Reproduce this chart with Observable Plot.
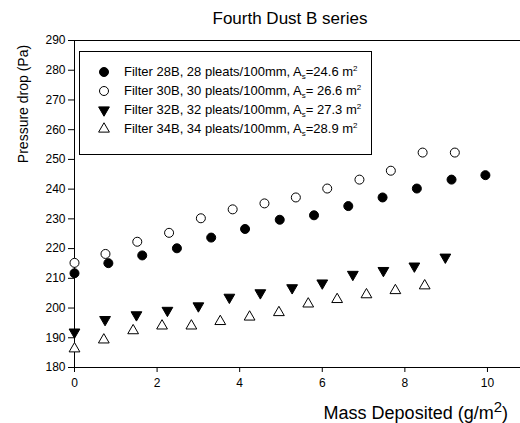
<!DOCTYPE html>
<html><head><meta charset="utf-8">
<script src="https://cdn.jsdelivr.net/npm/d3@7"></script>
<script src="https://cdn.jsdelivr.net/npm/@observablehq/plot@0.6"></script>
<style>body{margin:0;background:#fff}</style>
</head><body><div id="chart"></div>
<script>
const title = "Fourth Dust B series";
const xLabel = "Mass Deposited (g/m";
const yLabel = "Pressure drop (Pa)";
const xTicks = [0, 2, 4, 6, 8, 10];
const yTicks = [180, 190, 200, 210, 220, 230, 240, 250, 260, 270, 280, 290];

const x28 = [0, 0.82, 1.64, 2.48, 3.31, 4.13, 4.97, 5.80, 6.63, 7.46, 8.29, 9.13, 9.95];
const y28 = [211.7, 215.1, 217.7, 220.1, 223.7, 226.6, 229.7, 231.2, 234.3, 237.2, 240.2, 243.2, 244.7];
const x30 = [0, 0.75, 1.52, 2.29, 3.06, 3.83, 4.60, 5.36, 6.12, 6.90, 7.66, 8.43, 9.21];
const y30 = [215.2, 218.2, 222.3, 225.3, 230.2, 233.2, 235.2, 237.2, 240.2, 243.2, 246.2, 252.3, 252.3];
const x32 = [0, 0.74, 1.50, 2.25, 3.00, 3.75, 4.50, 5.27, 6.00, 6.74, 7.48, 8.23, 8.98];
const y32 = [191.9, 196.1, 197.7, 199.2, 200.7, 203.6, 205.1, 206.8, 208.4, 211.3, 212.6, 214.1, 217.1];
const x34 = [0, 0.71, 1.42, 2.12, 2.83, 3.53, 4.24, 4.95, 5.66, 6.36, 7.07, 7.77, 8.48];
const y34 = [186.3, 189.3, 192.4, 194.0, 194.0, 195.5, 197.0, 198.5, 201.4, 202.9, 204.5, 205.9, 207.5];

const legendNames = ["Filter 28B, 28 pleats/100mm, A", "Filter 30B, 30 pleats/100mm, A", "Filter 32B, 32 pleats/100mm, A", "Filter 34B, 34 pleats/100mm, A"];
const legendValues = ["=24.6 m", "= 26.6 m", "= 27.3 m", "=28.9 m"];

const toRows = (xs, ys) => xs.map((v, i) => ({x: v, y: ys[i]}));
const d28 = toRows(x28, y28), d30 = toRows(x30, y30), d32 = toRows(x32, y32), d34 = toRows(x34, y34);

const font = "'Liberation Sans', Arial, sans-serif";

const svg = Plot.plot({
  width: 520, height: 423,
  marginLeft: 74, marginRight: 0, marginTop: 40, marginBottom: 56,
  style: {fontFamily: font, fontSize: "12px", color: "#000", background: "#fff"},
  x: {domain: [0, 10.8], label: null},
  y: {domain: [180, 290], label: null},
  marks: [
    Plot.ruleY([180, 290], {stroke: "#000", strokeWidth: 1}),
    Plot.ruleX([0], {stroke: "#000", strokeWidth: 1}),
    Plot.axisX({ticks: xTicks, tickSize: 5, tickPadding: 6, stroke: "#000", fontSize: 12, fill: "#000"}),
    Plot.axisY({ticks: yTicks, tickSize: 6, tickPadding: 3, stroke: "#000", fontSize: 12, fill: "#000"}),
    Plot.dot(d34, {x: "x", y: "y", symbol: "triangle", r: 4, fill: "#fff", stroke: "#000", strokeWidth: 1}),
    Plot.dot(d32, {x: "x", y: "y", symbol: "triangle", rotate: 180, r: 4, fill: "#000", stroke: "#000", strokeWidth: 1}),
    Plot.dot(d30, {x: "x", y: "y", symbol: "circle", r: 4.5, fill: "#fff", stroke: "#000", strokeWidth: 1}),
    Plot.dot(d28, {x: "x", y: "y", symbol: "circle", r: 4.5, fill: "#000", stroke: "#000", strokeWidth: 1})
  ]
});
document.getElementById("chart").appendChild(svg);

const s = d3.select(svg);
s.append("text").attr("x", 290).attr("y", 24).attr("text-anchor", "middle")
  .attr("font-family", font).attr("font-size", 17).attr("fill", "#000").text(title);
s.append("text").attr("transform", "translate(28,104) rotate(-90)").attr("text-anchor", "middle")
  .attr("font-family", font).attr("font-size", 14).attr("fill", "#000").text(yLabel);
const xl = s.append("text").attr("x", 508).attr("y", 419).attr("text-anchor", "end")
  .attr("font-family", font).attr("font-size", 18).attr("fill", "#000");
xl.append("tspan").text(xLabel);
xl.append("tspan").attr("dy", -7).attr("font-size", 15).text("2");
xl.append("tspan").attr("dy", 7).text(")");

const lg = s.append("g");
lg.append("rect").attr("x", 79.5).attr("y", 51.5).attr("width", 292).attr("height", 103)
  .attr("fill", "#fff").attr("stroke", "#000").attr("stroke-width", 1);
const syms = [
  {type: d3.symbolCircle, size: Math.PI * 4.5 * 4.5, fill: "#000", rot: 0},
  {type: d3.symbolCircle, size: Math.PI * 4.5 * 4.5, fill: "#fff", rot: 0},
  {type: d3.symbolTriangle, size: Math.PI * 16, fill: "#000", rot: 180},
  {type: d3.symbolTriangle, size: Math.PI * 16, fill: "#fff", rot: 0}
];
const rowY = [72, 91, 110, 129];
legendNames.forEach((nm, i) => {
  lg.append("path").attr("d", d3.symbol(syms[i].type, syms[i].size)())
    .attr("transform", `translate(104,${rowY[i]}) rotate(${syms[i].rot})`)
    .attr("fill", syms[i].fill).attr("stroke", "#000").attr("stroke-width", 1);
  const t = lg.append("text").attr("x", 124).attr("y", rowY[i] + 4).attr("text-anchor", "start")
    .attr("font-family", font).attr("font-size", 13).attr("fill", "#000");
  t.append("tspan").text(nm);
  t.append("tspan").attr("dy", 3).attr("font-size", 8).text("s");
  t.append("tspan").attr("dy", -3).text(legendValues[i]);
  t.append("tspan").attr("dy", -5).attr("font-size", 8).text("2");
});
</script></body></html>
